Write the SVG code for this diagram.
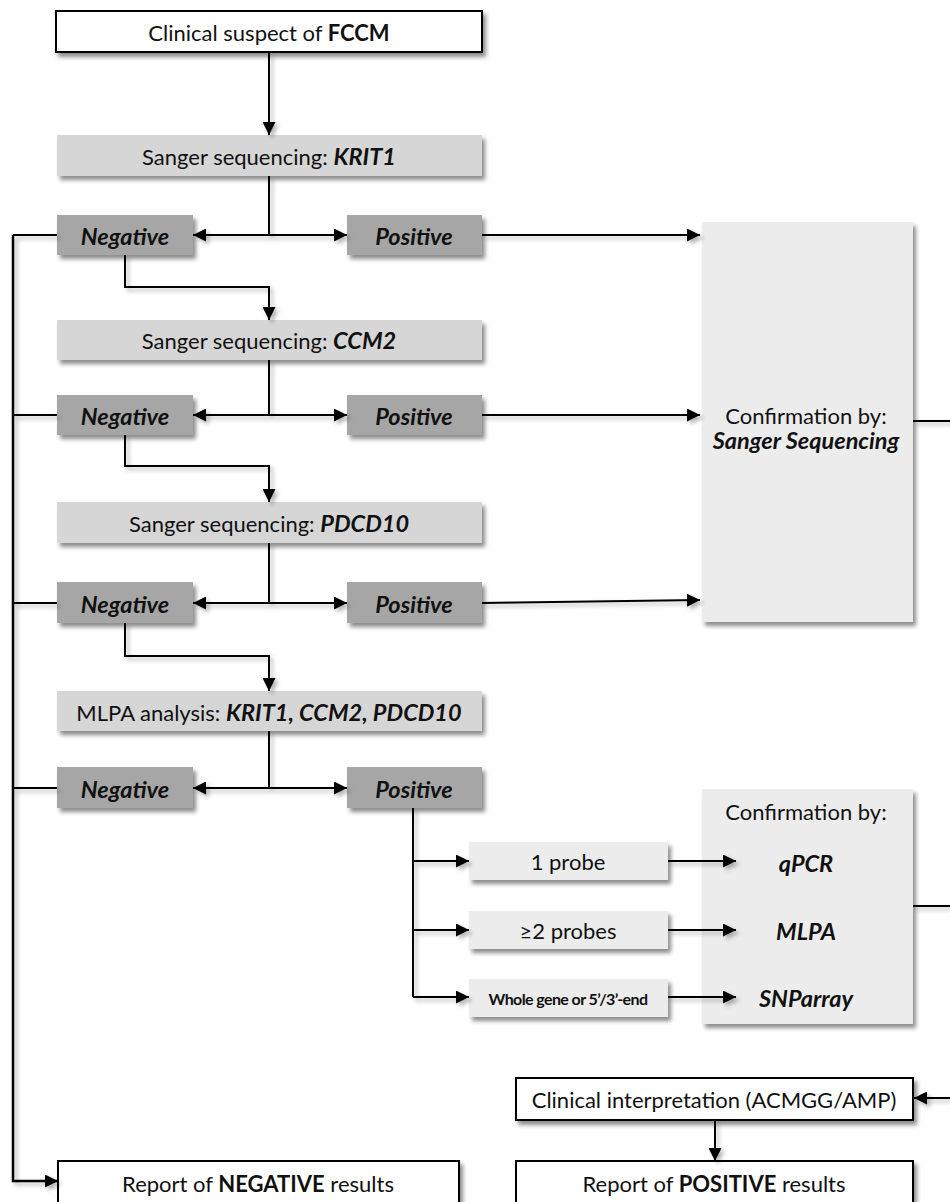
<svg xmlns="http://www.w3.org/2000/svg" width="950" height="1202" viewBox="0 0 950 1202">
<defs>
<filter id="sh" x="-10%" y="-10%" width="130%" height="140%">
<feDropShadow dx="3" dy="4" stdDeviation="2" flood-color="#000" flood-opacity="0.45"/>
</filter>
<filter id="lsh" x="-10%" y="-10%" width="130%" height="130%">
<feDropShadow dx="3" dy="3" stdDeviation="2" flood-color="#000" flood-opacity="0.3"/>
</filter>
<marker id="ah" viewBox="0 0 13 13" refX="13" refY="6.5" markerWidth="13" markerHeight="13" markerUnits="userSpaceOnUse" orient="auto">
<path d="M0,0 L13,6.5 L0,13 Z" fill="#000"/>
</marker>
</defs>
<style>
text{font-family:Lato,"Open Sans","Liberation Sans",sans-serif;fill:#111;text-anchor:middle;dominant-baseline:central}
.t{font-size:22px}
.b{font-weight:bold}
.bi{font-weight:bold;font-style:italic;font-size:23.5px}
.white{fill:#fff;stroke:#000;stroke-width:2;filter:url(#sh)}
.seq{fill:#d6d6d6;filter:url(#sh)}
.res{fill:#a6a6a6;filter:url(#sh)}
.conf{fill:#ececec;filter:url(#sh)}
.ln{fill:none;stroke:#000;stroke-width:2}
.ar{fill:none;stroke:#000;stroke-width:2;marker-end:url(#ah)}
</style>

<g id="n-clinical-suspect">
<rect class="white" x="56" y="11" width="426" height="41"/>
<text class="t" x="269" y="32">Clinical suspect of <tspan class="b">FCCM</tspan></text>
</g>

<g id="n-sanger-krit1">
<rect class="seq" x="57" y="135" width="425" height="41"/>
<text class="t" x="269" y="156">Sanger sequencing: <tspan class="bi">KRIT1</tspan></text>
</g>
<g id="n-neg1"><rect class="res" x="57" y="215" width="136" height="40"/><text class="bi" x="125" y="236">Negative</text></g>
<g id="n-pos1"><rect class="res" x="347" y="215" width="135" height="40"/><text class="bi" x="414" y="236">Positive</text></g>

<g id="n-sanger-ccm2">
<rect class="seq" x="57" y="320" width="425" height="40"/>
<text class="t" x="269" y="340">Sanger sequencing: <tspan class="bi">CCM2</tspan></text>
</g>
<g id="n-neg2"><rect class="res" x="57" y="395" width="136" height="40"/><text class="bi" x="125" y="416">Negative</text></g>
<g id="n-pos2"><rect class="res" x="347" y="395" width="135" height="40"/><text class="bi" x="414" y="416">Positive</text></g>

<g id="n-sanger-pdcd10">
<rect class="seq" x="57" y="502" width="425" height="41"/>
<text class="t" x="269" y="523">Sanger sequencing: <tspan class="bi">PDCD10</tspan></text>
</g>
<g id="n-neg3"><rect class="res" x="57" y="582" width="136" height="41"/><text class="bi" x="125" y="604">Negative</text></g>
<g id="n-pos3"><rect class="res" x="347" y="582" width="135" height="41"/><text class="bi" x="414" y="604">Positive</text></g>

<g id="n-mlpa">
<rect class="seq" x="57" y="691" width="425" height="40"/>
<text class="t" x="269" y="712">MLPA analysis: <tspan class="bi">KRIT1, CCM2, PDCD10</tspan></text>
</g>
<g id="n-neg4"><rect class="res" x="57" y="767" width="136" height="41"/><text class="bi" x="125" y="789">Negative</text></g>
<g id="n-pos4"><rect class="res" x="347" y="767" width="135" height="41"/><text class="bi" x="414" y="789">Positive</text></g>

<g id="n-confirm-sanger">
<rect class="conf" x="702" y="222" width="211" height="400"/>
<text class="t" x="806" y="415">Confirmation by:</text>
<text class="bi" x="806" y="440">Sanger Sequencing</text>
</g>

<g id="n-probe1"><rect class="conf" x="469" y="842" width="199" height="38"/><text class="t" x="568" y="861">1 probe</text></g>
<g id="n-probe2"><rect class="conf" x="469" y="911" width="199" height="38"/><text class="t" x="568" y="930">≥2 probes</text></g>
<g id="n-probe3"><rect class="conf" x="469" y="979" width="199" height="38"/><text class="b" style="font-size:16px;letter-spacing:-0.6px" x="568" y="998">Whole gene or 5’/3’-end</text></g>

<g id="n-confirm-mlpa">
<rect class="conf" x="702" y="789" width="211" height="235"/>
<text class="t" x="806" y="811">Confirmation by:</text>
<text class="bi" x="806" y="863">qPCR</text>
<text class="bi" x="806" y="931">MLPA</text>
<text class="bi" x="806" y="998">SNParray</text>
</g>

<g id="n-clinical-interp">
<rect class="white" x="516" y="1078" width="397" height="42"/>
<text class="t" x="714" y="1099">Clinical interpretation (ACMGG/AMP)</text>
</g>

<g id="n-report-neg">
<rect class="white" x="58" y="1161" width="401" height="50"/>
<text class="t" x="258" y="1183">Report of <tspan class="b">NEGATIVE</tspan> results</text>
</g>
<g id="n-report-pos">
<rect class="white" x="516" y="1161" width="397" height="50"/>
<text class="t" x="714" y="1183">Report of <tspan class="b">POSITIVE</tspan> results</text>
</g>

<g id="connectors" filter="url(#lsh)">
<path class="ar" d="M269,53 V135"/>
<path class="ln" d="M269,176 V235"/>
<path class="ar" d="M269,235 H193"/>
<path class="ar" d="M269,235 H347"/>
<path class="ar" d="M482,235 H700"/>
<path class="ar" d="M125,255 V287 H269 V320"/>
<path class="ln" d="M269,360 V415"/>
<path class="ar" d="M269,415 H193"/>
<path class="ar" d="M269,415 H347"/>
<path class="ar" d="M482,415 H700"/>
<path class="ar" d="M125,435 V466 H269 V502"/>
<path class="ln" d="M269,543 V603"/>
<path class="ar" d="M269,603 H193"/>
<path class="ar" d="M269,603 H347"/>
<path class="ar" d="M482,603 L700,600"/>
<path class="ar" d="M125,623 V656 H269 V691"/>
<path class="ln" d="M269,731 V788"/>
<path class="ar" d="M269,788 H193"/>
<path class="ar" d="M269,788 H347"/>
<path class="ln" d="M413,808 V997"/>
<path class="ar" d="M413,861 H469"/>
<path class="ar" d="M413,930 H469"/>
<path class="ar" d="M413,997 H469"/>
<path class="ar" d="M668,861 H736"/>
<path class="ar" d="M668,930 H736"/>
<path class="ar" d="M668,997 H736"/>
<path class="ln" d="M57,235 H13"/>
<path class="ln" d="M57,415 H13"/>
<path class="ln" d="M57,603 H13"/>
<path class="ln" d="M57,788 H13"/>
<path class="ar" d="M13,235 V1181 H58" style="stroke-width:2.5"/>
<path class="ln" d="M913,421 H950"/>
<path class="ln" d="M913,906 H950"/>
<path class="ar" d="M950,1098 H914"/>
<path class="ar" d="M715,1121 V1161"/>
</g>
</svg>
